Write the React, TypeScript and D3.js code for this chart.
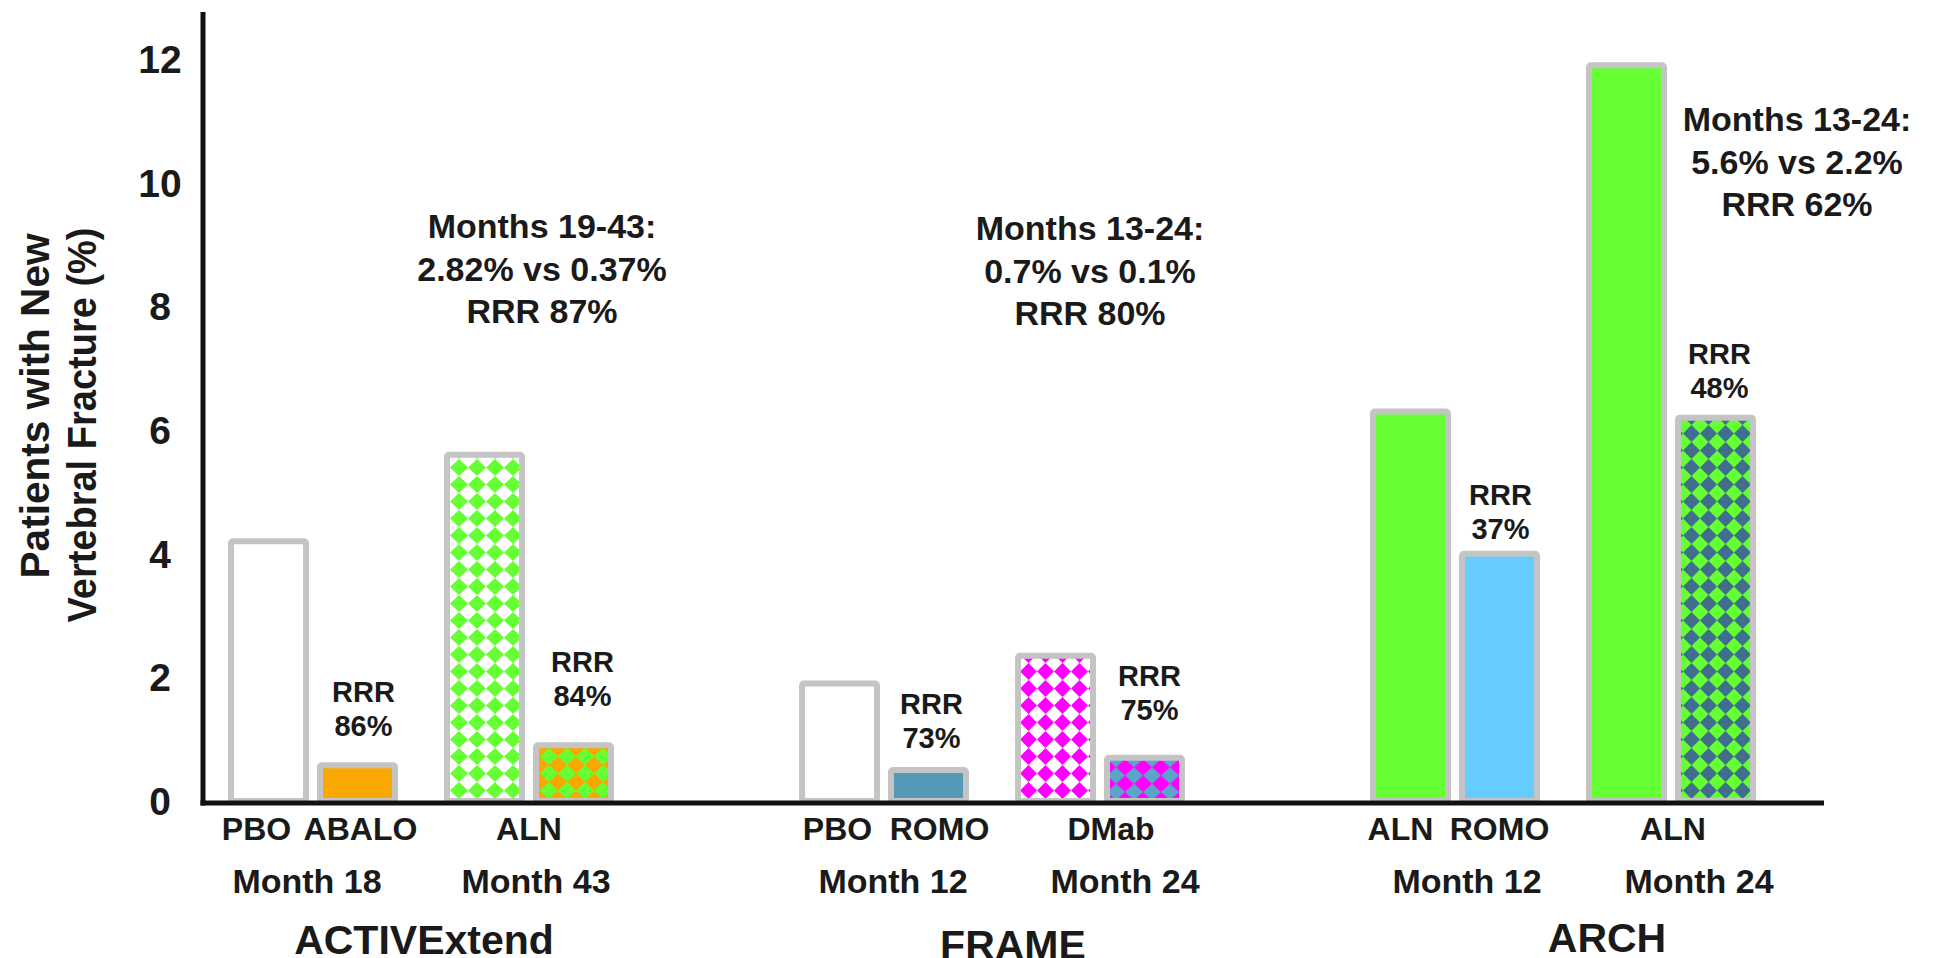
import React from "react";
import * as d3 from "d3";

// ---------- DATA ----------
const groups = ["ACTIVExtend", "FRAME", "ARCH"];
const pairIds = ["p0", "p1"];
const barIds = ["b0", "b1"];

// values [pair][bar] (% patients with new vertebral fracture)
const activeValues = [[4.2, 0.58], [5.6, 0.9]];
const frameValues = [[1.9, 0.5], [2.35, 0.7]];
const archValues = [[6.3, 4.0], [11.9, 6.2]];
const groupValues = [activeValues, frameValues, archValues];

// fill keys for each bar
const activeFills = [["white", "orange"], ["patGreenWhite", "patGreenOrange"]];
const frameFills = [["white", "steel"], ["patMagentaWhite", "patMagentaBlue"]];
const archFills = [["green", "sky"], ["green", "patNavyGreen"]];
const groupFills = [activeFills, frameFills, archFills];

const activeDrugs = [["PBO", "ABALO"], ["ALN"]];
const frameDrugs = [["PBO", "ROMO"], ["DMab"]];
const archDrugs = [["ALN", "ROMO"], ["ALN"]];
const groupDrugs = [activeDrugs, frameDrugs, archDrugs];

const activeMonths = ["Month 18", "Month 43"];
const frameMonths = ["Month 12", "Month 24"];
const archMonths = ["Month 12", "Month 24"];
const groupMonths = [activeMonths, frameMonths, archMonths];

const activeRRR = ["86%", "84%"];
const frameRRR = ["73%", "75%"];
const archRRR = ["37%", "48%"];
const groupRRR = [activeRRR, frameRRR, archRRR];

const activeNote = ["Months 19-43:", "2.82% vs 0.37%", "RRR 87%"];
const frameNote = ["Months 13-24:", "0.7% vs 0.1%", "RRR 80%"];
const archNote = ["Months 13-24:", "5.6% vs 2.2%", "RRR 62%"];
const groupNotes = [activeNote, frameNote, archNote];

const yTicks = [0, 2, 4, 6, 8, 10, 12];
const yTitle = ["Patients with New", "Vertebral Fracture (%)"];

// ---------- STYLE / LAYOUT ----------
const W = 1933;
const H = 958;
const FONT = "'Liberation Sans', Arial, Helvetica, sans-serif";
const TEXT = "#1a1a1a";
const STROKE = "#c4c4c4";
const SW = 6;
const colors: Record<string, string> = {
  white: "#ffffff",
  orange: "#f8a800",
  steel: "#5599b7",
  green: "#66ff33",
  sky: "#66ccff",
};
const patterns = [
  { id: "patGreenWhite", bg: "#ffffff", fg: "#66ff33", w: 18, h: 17 },
  { id: "patGreenOrange", bg: "#f8a800", fg: "#66ff33", w: 18, h: 17 },
  { id: "patMagentaWhite", bg: "#ffffff", fg: "#ff00ff", w: 17, h: 17 },
  { id: "patMagentaBlue", bg: "#5aa5c8", fg: "#ff00ff", w: 18, h: 16.5 },
  { id: "patNavyGreen", bg: "#66ff33", fg: "#3f6f8c", w: 17, h: 17 },
];

// label tweaks (text offsets relative to anchors)
const drugDx = [[[-12, 3], [0]], [[-2, 11], [11]], [[-10, 0], [2]]];
const monthDx = [[-6, 7], [9, 25], [12, 28]];
const rrrDx = [[6, 9], [3, 5], [1, 4]];
const rrrGap = [[29, 39], [22, 38], [15, 20]];
const titleDx = [3, 21, 44];
const titleY = [954, 959, 952];
const noteDx = [121, 98, 234];
const noteY = [238, 240, 131];
const yTitleLen = [345, 395];
const yTitleCy = [406, 425];

export default function App() {
  const y = d3.scaleLinear().domain([0, 12]).range([801, 59]);
  const xGroup = d3.scaleBand<string>().domain(groups).range([228, 1756]).paddingInner(0.324);
  const xPair = d3.scaleBand<string>().domain(pairIds).range([0, xGroup.bandwidth()]).paddingInner(0.213);
  const xBar = d3.scaleBand<string>().domain(barIds).range([0, xPair.bandwidth()]).paddingInner(0.09);

  const fillOf = (k: string) => (colors[k] ? colors[k] : `url(#${k})`);

  const bars: JSX.Element[] = [];
  const labels: JSX.Element[] = [];

  groups.forEach((g, gi) => {
    const gx = xGroup(g)!;
    const gc = gx + xGroup.bandwidth() / 2;
    pairIds.forEach((p, pi) => {
      const px = gx + xPair(p)!;
      const pc = px + xPair.bandwidth() / 2;
      barIds.forEach((b, bi) => {
        const v = groupValues[gi][pi][bi];
        const bx = px + xBar(b)!;
        bars.push(
          <rect
            key={`bar-${gi}-${pi}-${bi}`}
            x={bx + SW / 2}
            y={y(v)}
            width={xBar.bandwidth() - SW}
            height={y(0) - y(v)}
            fill={fillOf(groupFills[gi][pi][bi])}
            stroke={STROKE}
            strokeWidth={SW}
            rx={2}
          />
        );
      });
      // drug labels
      const drugs = groupDrugs[gi][pi];
      drugs.forEach((d, di) => {
        const cx =
          drugs.length === 2 ? px + xBar(barIds[di])! + xBar.bandwidth() / 2 : pc;
        labels.push(
          <text key={`drug-${gi}-${pi}-${di}`} x={cx + drugDx[gi][pi][di]} y={840}
            textAnchor="middle" fontSize={32} fontWeight="bold">{d}</text>
        );
      });
      // month labels
      labels.push(
        <text key={`month-${gi}-${pi}`} x={pc + monthDx[gi][pi]} y={893}
          textAnchor="middle" fontSize={34} fontWeight="bold">{groupMonths[gi][pi]}</text>
      );
      // RRR labels above second bar
      const v2 = groupValues[gi][pi][1];
      const c2 = px + xBar("b1")! + xBar.bandwidth() / 2 + rrrDx[gi][pi];
      const base = y(v2) - rrrGap[gi][pi];
      labels.push(
        <text key={`rrr-${gi}-${pi}`} x={c2} textAnchor="middle" fontSize={29} fontWeight="bold">
          <tspan x={c2} y={base - 34}>RRR</tspan>
          <tspan x={c2} y={base}>{groupRRR[gi][pi]}</tspan>
        </text>
      );
    });
    // group title
    labels.push(
      <text key={`title-${gi}`} x={gc + titleDx[gi]} y={titleY[gi]}
        textAnchor="middle" fontSize={41} fontWeight="bold">{g}</text>
    );
    // period notes
    const nx = gc + noteDx[gi];
    labels.push(
      <text key={`note-${gi}`} textAnchor="middle" fontSize={34} fontWeight="bold">
        {groupNotes[gi].map((line, li) => (
          <tspan key={li} x={nx} y={noteY[gi] + li * 42.5}>{line}</tspan>
        ))}
      </text>
    );
  });

  return (
    <svg
      width={W}
      height={H}
      viewBox={`0 0 ${W} ${H}`}
      style={{ position: "absolute", left: 0, top: 0, display: "block", background: "#fff" }}
      fontFamily={FONT}
      fill={TEXT}
    >
      <defs>
        {patterns.map((pt) => (
          <pattern key={pt.id} id={pt.id} patternUnits="userSpaceOnUse" width={pt.w} height={pt.h}>
            <rect width={pt.w} height={pt.h} fill={pt.bg} />
            <path
              d={`M${pt.w / 2},0 L${pt.w},${pt.h / 2} L${pt.w / 2},${pt.h} L0,${pt.h / 2} Z`}
              fill={pt.fg}
            />
          </pattern>
        ))}
      </defs>
      <rect width={W} height={H} fill="#fff" />

      {bars}

      {/* axes */}
      <line x1={203} x2={203} y1={12} y2={805.5} stroke="#111" strokeWidth={5} />
      <line x1={200.5} x2={1824} y1={803} y2={803} stroke="#111" strokeWidth={5} />

      {/* y ticks */}
      {yTicks.map((t) => (
        <text key={t} x={160} y={y(t)} dy="0.36em" textAnchor="middle" fontSize={39} fontWeight="bold">
          {t}
        </text>
      ))}

      {/* y title */}
      {yTitle.map((line, i) => (
        <text key={i} transform={`translate(${49 + i * 47},${yTitleCy[i]}) rotate(-90)`}
          textAnchor="middle" fontSize={40} fontWeight="bold"
          textLength={yTitleLen[i]} lengthAdjust="spacingAndGlyphs">{line}</text>
      ))}

      {labels}
    </svg>
  );
}
